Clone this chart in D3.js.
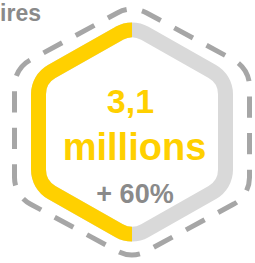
<!DOCTYPE html>
<meta charset="utf-8">
<script src="https://cdnjs.cloudflare.com/ajax/libs/d3/7.8.5/d3.min.js"></script>
<style>
  html, body { margin: 0; padding: 0; background: #fff; overflow: hidden; }
  text { font-family: "Liberation Sans", Arial, Helvetica, sans-serif; font-weight: bold; }
</style>
<body>
<div id="chart"></div>
<script>
// figures shown in the hexagon
const label = "ires";
const value = "3,1";
const unit = "millions";
const change = "+ 60%";
const share = 0.5;   // part of the ring in yellow (left half)

const width = 255, height = 263;
const cx = 132, cy = 132;

const svg = d3.select("#chart").append("svg")
    .attr("width", width)
    .attr("height", height);

// rounded hexagon, pointy top, starting on the upper-left edge just before the top corner
function hexagon(w, h, r) {
  const pts = [
    [cx, cy - h], [cx + w, cy - h / 2], [cx + w, cy + h / 2],
    [cx, cy + h], [cx - w, cy + h / 2], [cx - w, cy - h / 2]
  ];
  const p = d3.path();
  const a = pts[5], b = pts[0];
  const len = Math.hypot(b[0] - a[0], b[1] - a[1]);
  const t = r * Math.tan(Math.PI / 6) / len;
  p.moveTo(b[0] + (a[0] - b[0]) * t, b[1] + (a[1] - b[1]) * t);
  for (let i = 0; i < 6; i++) {
    const v = pts[i], n = pts[(i + 1) % 6];
    p.arcTo(v[0], v[1], n[0], n[1], r);
  }
  p.closePath();
  return p.toString();
}

// outer dashed outline
const outerD = hexagon(117.5, 127, 30);
const outer = svg.append("path")
    .attr("d", outerD)
    .attr("fill", "none")
    .attr("stroke", "#a6a6a6")
    .attr("stroke-width", 5);

const L = outer.node().getTotalLength();
const n = Math.round(L / 36);
const period = L / n;
const dash = period * 0.58;
// length of the first (top) corner arc, so a dash sits centred on it
const tmp = svg.append("path")
    .attr("d", outerD.split("L")[0].split("A").slice(0, 2).join("A"));
const arcLen = tmp.node().getTotalLength();
tmp.remove();
outer.attr("stroke-dasharray", dash + " " + (period - dash))
    .attr("stroke-dashoffset", dash / 2 - arcLen / 2);

// inner ring: grey base with yellow share
const x = d3.scaleLinear().domain([0, 1]).range([cx - 110, cx + 110]);
svg.append("clipPath").attr("id", "leftHalf")
  .append("rect")
    .attr("x", 0).attr("y", 0)
    .attr("width", x(share)).attr("height", height);

const ring = hexagon(93.5, 106, 26);
svg.append("path")
    .attr("d", ring)
    .attr("fill", "none")
    .attr("stroke", "#d9d9d9")
    .attr("stroke-width", 15);
svg.append("path")
    .attr("d", ring)
    .attr("fill", "none")
    .attr("stroke", "#ffd000")
    .attr("stroke-width", 15)
    .attr("clip-path", "url(#leftHalf)");

// texts
svg.append("text")
    .attr("x", 41).attr("y", 21)
    .attr("text-anchor", "end")
    .attr("font-size", 23)
    .attr("fill", "#8a8a8a")
    .text(label);

svg.append("text")
    .attr("x", 130.5).attr("y", 113)
    .attr("text-anchor", "middle")
    .attr("font-size", 34)
    .attr("fill", "#ffd000")
    .text(value);

svg.append("text")
    .attr("x", 134.5).attr("y", 160)
    .attr("text-anchor", "middle")
    .attr("font-size", 38)
    .attr("fill", "#ffd000")
    .text(unit);

svg.append("text")
    .attr("x", 135).attr("y", 203)
    .attr("text-anchor", "middle")
    .attr("font-size", 27)
    .attr("fill", "#8a8a8a")
    .text(change);
</script>
</body>
